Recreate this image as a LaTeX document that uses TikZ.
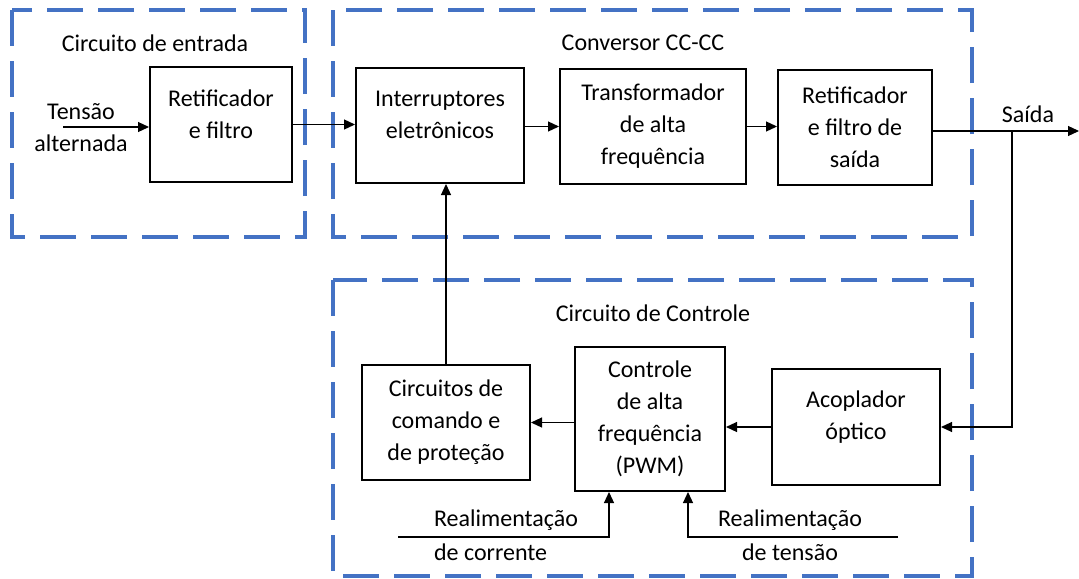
\documentclass[tikz,border=0pt]{standalone}
\usepackage{fontspec}
\setmainfont{Carlito}
\usetikzlibrary{arrows.meta}
\definecolor{azul}{HTML}{4472C4}

\begin{document}
\begin{tikzpicture}[x=0.5pt, y=-0.5pt,
  every node/.style={font=\fontsize{12}{16}\selectfont, align=center},
  bloco/.style={draw, line width=1pt, inner sep=0pt},
  moldura/.style={draw=azul, line width=2pt, dash pattern=on 18pt off 7.5pt},
  seta/.style={-{Triangle[length=5.5pt, width=5pt]}, line width=0.6pt}]
  \useasboundingbox (0,0) rectangle (1079,578);

  % dashed frames
  \draw[moldura] (12,10) rectangle (305,237);   % circuito de entrada
  \draw[moldura] (333,10) rectangle (972,237);  % conversor
  \draw[moldura] (333,280) rectangle (972,576); % controle

  % frame titles
  \node (tEnt) at (155,43)  {Circuito de entrada};
  \node (tConv) at (643,43) {Conversor CC-CC};
  \node (tCtrl) at (653,313) {Circuito de Controle};

  % blocks
  \node[bloco, minimum width=71pt, minimum height=57.5pt,
        label={[yshift=5pt]center:Retificador\\e filtro}] (ret) at (221,124.5) {};
  \node[bloco, minimum width=84pt, minimum height=57.5pt,
        label={[yshift=5.5pt]center:Interruptores\\eletrônicos}] (intr) at (440,125.5) {};
  \node[bloco, minimum width=93pt, minimum height=57.5pt] (trafo) at (653,126.5)
        {Transformador\\de alta\\frequência};
  \node[bloco, minimum width=77pt, minimum height=57.5pt] (retsai) at (855,127.5)
        {Retificador\\e filtro de\\saída};
  \node[bloco, minimum width=84pt, minimum height=57.5pt] (cmd) at (446,422.5)
        {Circuitos de\\comando e\\de proteção};
  \node[bloco, minimum width=75pt, minimum height=72pt] (pwm) at (650,419)
        {Controle\\de alta\\frequência\\(PWM)};
  \node[bloco, minimum width=84pt, minimum height=58pt,
        label={[yshift=5pt]center:Acoplador\\óptico}] (acop) at (856,427) {};

  % free ends
  \coordinate (ent) at (63,127);     % input
  \coordinate (saida) at (1079,131); % output
  \coordinate (ramo) at (1012,131);  % branch to feedback
  \coordinate (fbI) at (398,537);    % current feedback
  \coordinate (fbV) at (898,537);    % voltage feedback

  % texts
  \node (tensao) at (81,128) {Tensão\\alternada};
  \node (tSai) at (1028,114) {Saída};
  \node[anchor=west] (realI) at (427,520) {Realimentação};
  \node[anchor=west] (corrI) at (427,552) {de corrente};
  \node (realV) at (790,520) {Realimentação};
  \node (tensV) at (790,552) {de tensão};

  % connectors
  \draw[seta] (ent) -- (ent -| ret.west);
  \draw[seta] (ret.east) -- (ret.east -| intr.west);
  \draw[seta] (intr.east |- trafo.west) -- (trafo.west);
  \draw[seta] (trafo.east) -- (trafo.east -| retsai.west);
  \draw[seta] (retsai.east |- saida) -- (saida);
  \draw[seta] (ramo) |- (acop.east);
  \draw[seta] (acop.west) -- (acop.west -| pwm.east);
  \draw[seta] (pwm.west |- cmd.east) -- (cmd.east);
  \draw[seta] (cmd.north) -- (cmd.north |- intr.south);
  \draw[seta] (fbI) -| ([xshift=-20.5pt]pwm.south);
  \draw[seta] (fbV) -| ([xshift=19pt]pwm.south);
\end{tikzpicture}
\end{document}
